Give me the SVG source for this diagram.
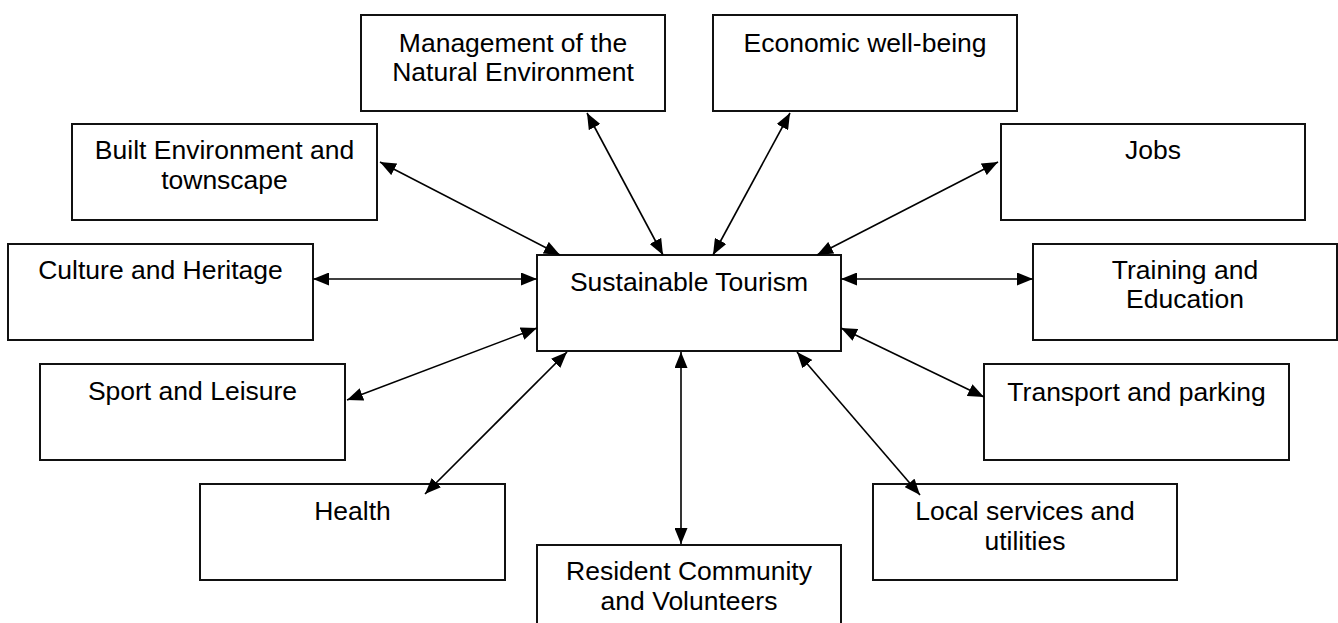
<svg xmlns="http://www.w3.org/2000/svg" width="1338" height="623" viewBox="0 0 1338 623">
<style>
.box{fill:#fff;stroke:#111;stroke-width:2}
.lbl{font-family:"Liberation Sans",Arial,sans-serif;font-size:26.5px;fill:#000;text-anchor:middle}
.con{stroke:#000;stroke-width:1.6;fill:none;marker-start:url(#ah);marker-end:url(#ah)}
</style>
<defs>
<marker id="ah" markerUnits="userSpaceOnUse" markerWidth="16" markerHeight="13" refX="16" refY="6.5" orient="auto-start-reverse" viewBox="0 0 16 13">
<path d="M0,0 L16,6.5 L0,13 z" fill="#000"/>
</marker>
</defs>
<rect width="1338" height="623" fill="#fff"/>
<g id="management">
<rect class="box" x="361" y="15" width="304" height="96"/>
<text class="lbl" x="513" y="52">Management of the</text>
<text class="lbl" x="513" y="81">Natural Environment</text>
</g>
<g id="economic">
<rect class="box" x="713" y="15" width="304" height="96"/>
<text class="lbl" x="865" y="52">Economic well-being</text>
</g>
<g id="built">
<rect class="box" x="72" y="124" width="305" height="96"/>
<text class="lbl" x="224.5" y="159">Built Environment and</text>
<text class="lbl" x="224.5" y="189">townscape</text>
</g>
<g id="jobs">
<rect class="box" x="1001" y="124" width="304" height="96"/>
<text class="lbl" x="1153" y="159">Jobs</text>
</g>
<g id="culture">
<rect class="box" x="8" y="244" width="305" height="96"/>
<text class="lbl" x="160.5" y="279">Culture and Heritage</text>
</g>
<g id="sustainable">
<rect class="box" x="537" y="255" width="304" height="96"/>
<text class="lbl" x="689" y="291">Sustainable Tourism</text>
</g>
<g id="training">
<rect class="box" x="1033" y="244" width="304" height="96"/>
<text class="lbl" x="1185" y="279">Training and</text>
<text class="lbl" x="1185" y="308">Education</text>
</g>
<g id="sport">
<rect class="box" x="40" y="364" width="305" height="96"/>
<text class="lbl" x="192.5" y="400">Sport and Leisure</text>
</g>
<g id="transport">
<rect class="box" x="984" y="364" width="305" height="96"/>
<text class="lbl" x="1136.5" y="401">Transport and parking</text>
</g>
<g id="health">
<rect class="box" x="200" y="484" width="305" height="96"/>
<text class="lbl" x="352.5" y="520">Health</text>
</g>
<g id="local">
<rect class="box" x="873" y="484" width="304" height="96"/>
<text class="lbl" x="1025" y="520">Local services and</text>
<text class="lbl" x="1025" y="550">utilities</text>
</g>
<g id="resident">
<rect class="box" x="537" y="545" width="304" height="96"/>
<text class="lbl" x="689" y="580">Resident Community</text>
<text class="lbl" x="689" y="610">and Volunteers</text>
</g>
<g id="connectors">
<line class="con" x1="380" y1="162" x2="560" y2="255"/>
<line class="con" x1="587" y1="113" x2="663" y2="255"/>
<line class="con" x1="790" y1="113" x2="713" y2="255"/>
<line class="con" x1="998" y1="162" x2="817" y2="255"/>
<line class="con" x1="313" y1="279" x2="537" y2="279"/>
<line class="con" x1="1033" y1="279" x2="841" y2="279"/>
<line class="con" x1="347" y1="400" x2="537" y2="328"/>
<line class="con" x1="984" y1="397" x2="841" y2="328"/>
<line class="con" x1="425" y1="494" x2="567" y2="352"/>
<line class="con" x1="681" y1="544" x2="681" y2="352"/>
<line class="con" x1="920" y1="495" x2="797" y2="352"/>
</g>
</svg>
